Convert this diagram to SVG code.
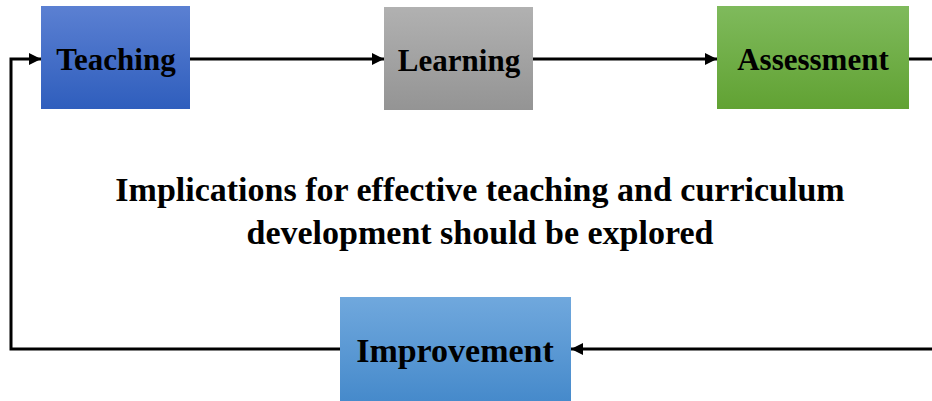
<svg xmlns="http://www.w3.org/2000/svg" width="932" height="401" viewBox="0 0 932 401">
<style>
.lbl{font-family:"Liberation Serif","Times New Roman",serif;font-weight:bold;fill:#000;text-anchor:middle}
.box{font-size:31px}
.conn{fill:none;stroke:#000;stroke-width:3}
</style>
<defs>
<linearGradient id="gBlue" x1="0" y1="0" x2="0" y2="1"><stop offset="0" stop-color="#5b80d2"/><stop offset="1" stop-color="#2f5ebd"/></linearGradient>
<linearGradient id="gGray" x1="0" y1="0" x2="0" y2="1"><stop offset="0" stop-color="#b1b1b1"/><stop offset="1" stop-color="#949494"/></linearGradient>
<linearGradient id="gGreen" x1="0" y1="0" x2="0" y2="1"><stop offset="0" stop-color="#7fba5c"/><stop offset="1" stop-color="#61a233"/></linearGradient>
<linearGradient id="gLight" x1="0" y1="0" x2="0" y2="1"><stop offset="0" stop-color="#70a8dd"/><stop offset="1" stop-color="#468acb"/></linearGradient>
<marker id="arr" viewBox="0 0 10 10" refX="10" refY="5" markerWidth="4" markerHeight="4" orient="auto" markerUnits="strokeWidth"><path d="M0,0 L10,5 L0,10 z" fill="#000"/></marker>
</defs>
<g id="connectors">
<path class="conn" d="M190,59 L384,59" marker-end="url(#arr)"/>
<path class="conn" d="M533,59 L717,59" marker-end="url(#arr)"/>
<path class="conn" d="M909,59 L932,59"/>
<path class="conn" d="M932,349 L571,349" marker-end="url(#arr)"/>
<path class="conn" d="M340,349 L11,349 L11,59 L41,59" marker-end="url(#arr)"/>
</g>
<g id="teaching">
<rect x="41" y="6" width="149" height="103" fill="url(#gBlue)"/>
<text class="lbl box" x="116" y="70">Teaching</text>
</g>
<g id="learning">
<rect x="384" y="7" width="149" height="103" fill="url(#gGray)"/>
<text class="lbl box" x="459" y="71">Learning</text>
</g>
<g id="assessment">
<rect x="717" y="6" width="192" height="103" fill="url(#gGreen)"/>
<text class="lbl box" x="813" y="70">Assessment</text>
</g>
<g id="improvement">
<rect x="340" y="297" width="231" height="104" fill="url(#gLight)"/>
<text class="lbl" x="455" y="362" font-size="34">Improvement</text>
</g>
<g id="note">
<text class="lbl" x="480" y="201" font-size="34">Implications for effective teaching and curriculum</text>
<text class="lbl" x="480" y="244" font-size="34">development should be explored</text>
</g>
</svg>
